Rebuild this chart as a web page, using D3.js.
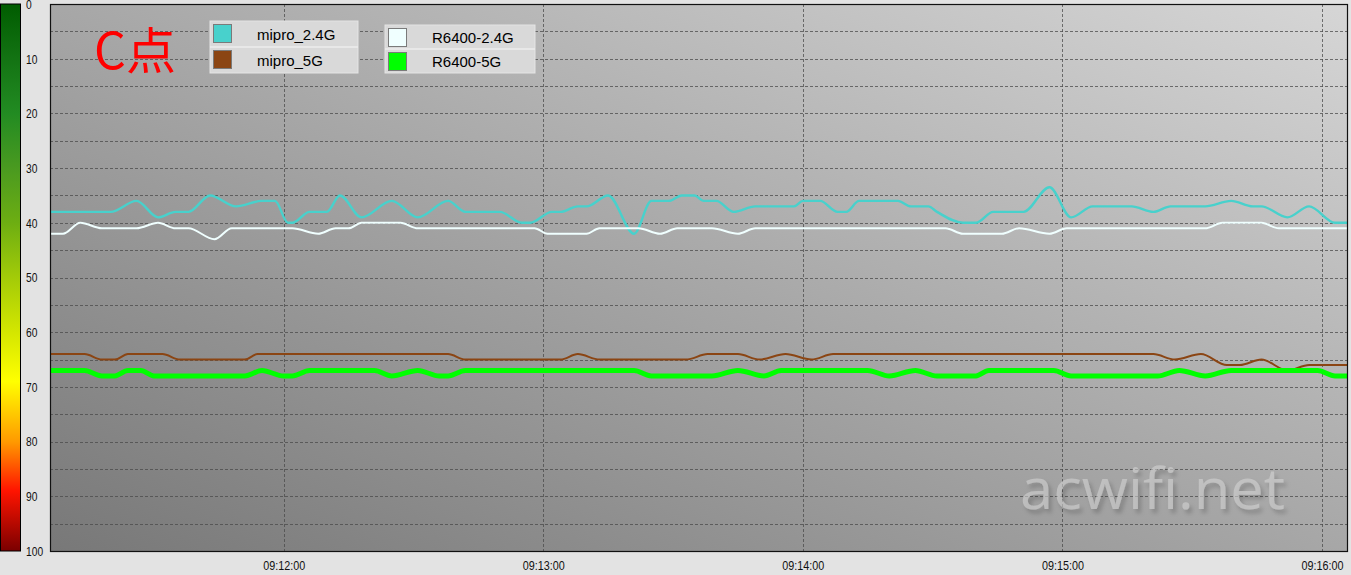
<!DOCTYPE html>
<html><head><meta charset="utf-8">
<script src="https://cdn.jsdelivr.net/npm/d3@7"></script>
<style>html,body{margin:0;padding:0;background:#e3e3e3;overflow:hidden}</style>
</head><body><svg id="c" width="1351" height="575"></svg>
<script>
// ---------- data ----------
const startTime = "09:11:06";
const endTime = "09:16:06";
const xTickLabels = ["09:12:00", "09:13:00", "09:14:00", "09:15:00", "09:16:00"];
const yTickValues = [0, 10, 20, 30, 40, 50, 60, 70, 80, 90, 100];
const seriesNames = ["mipro_2.4G", "mipro_5G", "R6400-2.4G", "R6400-5G"];
const seriesColors = ["#48d1cc", "#8b4513", "#f0ffff", "#00ff00"];
const titleText = "C点";
const watermarkText = "acwifi.net";

// [seconds after start, value]
const mipro24 = [[0,38],[14,38],[20,36],[25,39],[29,38],[32,38],[37,35],[43,37],[49,36],[52,36],[55,40],[56,40],[60,38],[64,38],[67,35],[72,39],[79,36],[85,39],[92,36],[96,38],[104,38],[109,40],[111,40],[116,38],[118,38],[122,37],[124,37],[129,35],[135,42],[139,36],[143,36],[146,35],[149,35],[151,36],[154,36],[158,38],[163,37],[172,37],[174,36],[178,36],[182,38],[184,38],[187,36],[196,36],[199,37],[203,37],[205,38],[211,40],[214,40],[218,38],[225,38],[231,33.5],[236,39],[241,37],[250,37],[255,38],[259,37],[267,37],[273,36],[278,37],[280,37],[286,39],[291,37],[297,40],[300,40]];
const mipro5 = [[0,64],[8,64],[12,65],[15,65],[18,64],[26,64],[30,65],[45,65],[48,64],[92,64],[96,65],[118,65],[122,64],[127,65],[147,65],[152,64],[159,64],[164,65],[170,64],[176,65],[181,64],[255,64],[260,65],[266,64],[272,66],[275,66],[280,65],[286,67],[291,66],[300,66]];
const r640024 = [[0,42],[3,42],[7,40],[12,41],[20,41],[25,40],[29,41],[32,41],[38,43],[42,41],[56,41],[62,42],[66,41],[69,41],[72,40],[81,40],[85,41],[112,41],[115,42],[124,42],[127,41],[136,41],[141,42],[145,41],[153,41],[159,42],[163,41],[207,41],[211,42],[220,42],[224,41],[231,42],[235,41],[267,41],[271,40],[280,40],[284,41],[300,41]];
const r64005 = [[0,67],[8,67],[12,68],[15,68],[18,67],[21,67],[24,68],[45,68],[49,67],[54,68],[56,68],[60,67],[75,67],[79,68],[85,67],[90,68],[92,68],[96,67],[135,67],[139,68],[153,68],[159,67],[165,68],[169,67],[189,67],[194,68],[200,67],[205,68],[214,68],[217,67],[232,67],[236,68],[256,68],[261,67],[267,68],[273,67],[293,67],[297,68],[300,68]];
const seriesData = [mipro24, mipro5, r640024, r64005];
const seriesWidths = [2.4, 2, 2, 5];

// ---------- layout ----------
const L = 50, R = 1348, T = 4, B = 551;
const svg = d3.select("#c");
const parse = d3.timeParse("%H:%M:%S");
const t0 = parse(startTime), t1 = parse(endTime);
const x = d3.scaleTime().domain([t0, t1]).range([L, R]);
const y = d3.scaleLinear().domain([0, 100]).range([T, B]);

const defs = svg.append("defs");
const bg = defs.append("linearGradient").attr("id", "bg").attr("x1", 0).attr("y1", 1).attr("x2", 1).attr("y2", 0);
bg.append("stop").attr("offset", "0%").attr("stop-color", "#787878");
bg.append("stop").attr("offset", "100%").attr("stop-color", "#d6d6d6");
const cb = defs.append("linearGradient").attr("id", "cb").attr("x1", 0).attr("y1", 0).attr("x2", 0).attr("y2", 1);
[["0%","#005c00"],["10%","#137313"],["20%","#228b22"],["30%","#4a9a20"],["40%","#6dae12"],["50%","#a3cb08"],["60%","#d4e600"],["69%","#ffff00"],["80%","#ff9a00"],["89%","#ff1400"],["100%","#7a0000"]]
  .forEach(s => cb.append("stop").attr("offset", s[0]).attr("stop-color", s[1]));
const shadow = defs.append("filter").attr("id", "shadow").attr("x", "-10%").attr("y", "-20%").attr("width", "125%").attr("height", "150%");
shadow.append("feDropShadow").attr("dx", 3).attr("dy", 4).attr("stdDeviation", 2.2)
  .attr("flood-color", "#000").attr("flood-opacity", 0.35);
defs.append("clipPath").attr("id", "clip").append("rect").attr("x", L).attr("y", T).attr("width", R - L).attr("height", B - T);

// colour bar
svg.append("rect").attr("x", 0.5).attr("y", y(0)).attr("width", 20).attr("height", y(100) - y(0))
  .attr("fill", "url(#cb)").attr("stroke", "#000").attr("stroke-width", 1);

// plot background
svg.append("rect").attr("x", L).attr("y", T).attr("width", R - L).attr("height", B - T).attr("fill", "url(#bg)");

// grid
const grid = svg.append("g");
grid.selectAll("line.h").data(d3.range(5, 100, 5)).join("line")
  .attr("x1", L).attr("x2", R).attr("y1", d => Math.round(y(d)) + 0.5).attr("y2", d => Math.round(y(d)) + 0.5)
  .attr("stroke", "#4a4a4a").attr("stroke-width", 1).attr("stroke-dasharray", "3,2").attr("opacity", 0.75);
grid.selectAll("line.v").data(xTickLabels.map(parse)).join("line")
  .attr("y1", T).attr("y2", B).attr("x1", d => Math.round(x(d)) + 0.5).attr("x2", d => Math.round(x(d)) + 0.5)
  .attr("stroke", "#4a4a4a").attr("stroke-width", 1).attr("stroke-dasharray", "3,2").attr("opacity", 0.75);

// watermark
svg.append("text").attr("x", 1020).attr("y", 509).text(watermarkText)
  .attr("font-family", "'Open Sans','Noto Sans',sans-serif").attr("font-size", 56)
  .attr("textLength", 265).attr("lengthAdjust", "spacingAndGlyphs")
  .attr("fill", "rgba(215,215,215,0.55)").attr("filter", "url(#shadow)");

// series
const line = d3.line().x(d => x(d3.timeSecond.offset(t0, d[0]))).y(d => y(d[1])).curve(d3.curveMonotoneX);
svg.append("g").attr("clip-path", "url(#clip)").selectAll("path").data([0, 1, 2, 3]).join("path")
  .attr("d", i => line(seriesData[i])).attr("fill", "none")
  .attr("stroke", i => seriesColors[i]).attr("stroke-width", i => seriesWidths[i])
  .attr("stroke-linejoin", "round").attr("stroke-linecap", "round");

// border
svg.append("rect").attr("x", L + 0.5).attr("y", T + 0.5).attr("width", R - L - 1).attr("height", B - T)
  .attr("fill", "none").attr("stroke", "#111").attr("stroke-width", 1.2);

// axes
const xAxis = svg.append("g").attr("transform", `translate(0,${B})`)
  .call(d3.axisBottom(x).tickValues(xTickLabels.map(parse)).tickFormat(d3.timeFormat("%H:%M:%S")).tickSize(0).tickPadding(8));
xAxis.select(".domain").remove();
xAxis.selectAll("text").attr("font-family", "'Liberation Sans',Arial,sans-serif").attr("font-size", 13.5).attr("fill", "#111")
  .attr("textLength", 42).attr("lengthAdjust", "spacingAndGlyphs").attr("dy", "0.8em");

const yAxis = svg.append("g").attr("transform", "translate(24,0)")
  .call(d3.axisRight(y).tickValues(yTickValues).tickSize(0).tickPadding(2));
yAxis.select(".domain").remove();
yAxis.selectAll("text").attr("font-family", "'Liberation Sans',Arial,sans-serif").attr("font-size", 13.5).attr("fill", "#111")
  .attr("text-anchor", "start").attr("textLength", d => String(d).length * 5.7).attr("lengthAdjust", "spacingAndGlyphs");

// title
svg.append("text").attr("x", 94).attr("y", 69).text(titleText).attr("fill", "#ff0000")
  .attr("font-family", "'Noto Sans CJK SC',sans-serif").attr("font-size", 50);

// legend
const legendBoxes = [
  {x: 210, y: 21, w: 148, items: [0, 1], tx: 257},
  {x: 385, y: 25, w: 150, items: [2, 3], tx: 432}
];
legendBoxes.forEach(bx => {
  const g = svg.append("g");
  const rowH = (73 - bx.y) / 2;
  g.append("rect").attr("x", bx.x).attr("y", bx.y).attr("width", bx.w).attr("height", rowH * 2)
    .attr("fill", "#d9d9d9").attr("stroke", "#e4e4e4").attr("stroke-width", 1);
  g.append("line").attr("x1", bx.x).attr("x2", bx.x + bx.w).attr("y1", bx.y + rowH).attr("y2", bx.y + rowH)
    .attr("stroke", "#ececec").attr("stroke-width", 1.5);
  bx.items.forEach((si, k) => {
    const ry = bx.y + k * rowH;
    g.append("rect").attr("x", bx.x + 3.5).attr("y", ry + 3.5).attr("width", 18).attr("height", 18)
      .attr("fill", seriesColors[si]).attr("stroke", "#7a7a7a").attr("stroke-width", 1);
    g.append("text").attr("x", bx.tx).attr("y", ry + rowH / 2 + 5.5).text(seriesNames[si])
      .attr("font-family", "'Liberation Sans',Arial,sans-serif").attr("font-size", 15).attr("fill", "#000");
  });
});
</script></body></html>
